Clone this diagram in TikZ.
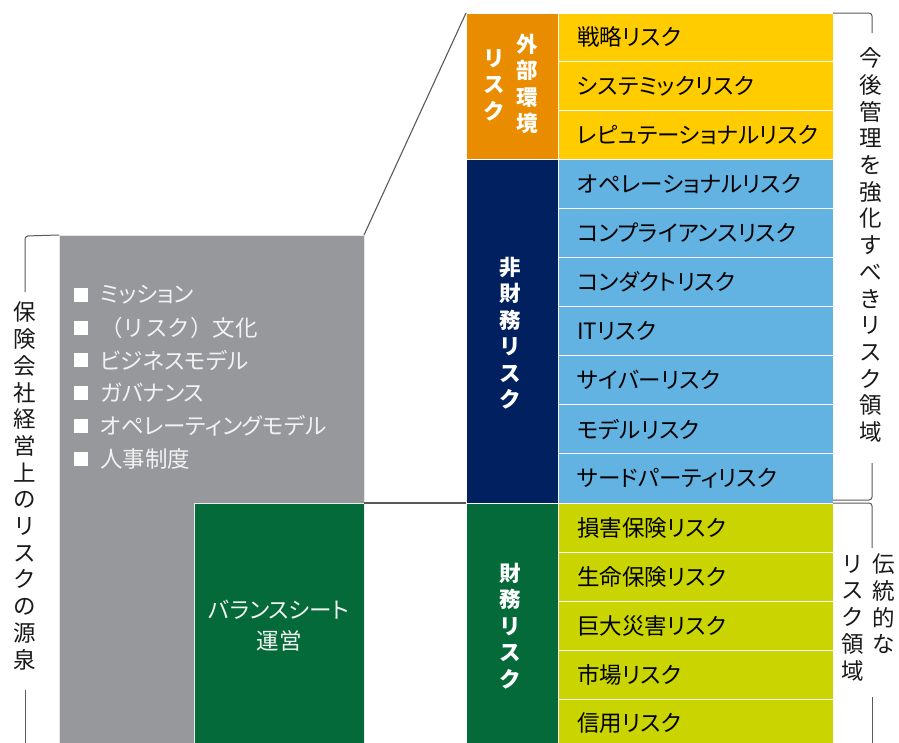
\documentclass[tikz,border=0pt]{standalone}
\usepackage{fontspec}
\newfontfamily\jp[RawFeature=+palt]{Noto Sans CJK JP}
\newfontfamily\jpv{Noto Sans CJK JP}
\definecolor{cOrange}{HTML}{EA8C00}
\definecolor{cYellow}{HTML}{FFCC00}
\definecolor{cNavy}{HTML}{00205F}
\definecolor{cBlue}{HTML}{62B2E2}
\definecolor{cGreen}{HTML}{056A39}
\definecolor{cLime}{HTML}{C9D400}
\definecolor{cGray}{HTML}{97989B}
\definecolor{cLine}{HTML}{5A5A5A}
\definecolor{cLight}{HTML}{F2F2F2}
\begin{document}
\begin{tikzpicture}[x=1pt,y=-1pt,
  cell/.style={rectangle, inner sep=0, outer sep=0, draw=white, line width=0.9pt, anchor=north west},
  rowtxt/.style={anchor=west, inner sep=0, font=\jp\fontsize{22.5}{24}\selectfont, text=black},
  headtxt/.style={align=center, inner sep=0, text=white, font=\jpv\bfseries\fontsize{21.5}{26.5}\selectfont},
  sidetxt/.style={align=center, inner sep=0, text=black!90, font=\jpv\fontsize{22.5}{26.7}\selectfont},
  bullettxt/.style={anchor=west, inner sep=0, text=cLight, font=\jp\fontsize{22.5}{26}\selectfont},
  bulletbox/.style={rectangle, fill=white, minimum size=14pt, inner sep=0},
  brk/.style={draw=cLine, line width=1pt, rounded corners=3pt},
  conn/.style={draw=cLine, line width=1.1pt}]
\useasboundingbox (0,0) rectangle (899,742);
\clip (0,0) rectangle (899,742);
\fill[white] (0,0) rectangle (899,742);

% source box (gray)
\node[cell, fill=cGray, draw=white!80!gray, line width=0.6pt, minimum width=305pt, minimum height=530pt] (src) at (59,235) {};
% balance sheet box
\node[cell, fill=cGreen, draw=white!85!gray, line width=0.8pt, minimum width=170pt, minimum height=260pt] (bs) at (194,503) {};
\node[align=center, inner sep=0, text=cLight, font=\jp\fontsize{22.5}{31}\selectfont] (bstxt) at (279,626) {バランスシート\\運営};

% bullets
\foreach \t [count=\i from 0] in {ミッション,{\jpv （リスク）文化},ビジネスモデル,ガバナンス,オペレーティングモデル,人事制度} {
  \node[bulletbox] (b\i) at (81,295+32.7*\i) {};
  \node[bullettxt] (bt\i) at (100,295+32.7*\i) {\t};
}

% category column
\node[cell, fill=cOrange, minimum width=92pt, minimum height=146pt] (ext) at (466,13) {};
\node[cell, fill=cNavy, minimum width=92pt, minimum height=344pt] (nfin) at (466,159) {};
\node[cell, fill=cGreen, minimum width=92pt, minimum height=260pt] (fin) at (466,503) {};

\node[headtxt] (extA) at (527,84) {外\\部\\環\\境};
\node[headtxt] (extB) at (494,85) {リ\\ス\\ク};
\node[headtxt] (nfinT) at (510,333) {非\\財\\務\\リ\\ス\\ク};
\node[headtxt] (finT) at (510,626) {財\\務\\リ\\ス\\ク};

% risk rows
\foreach \t [count=\i from 0] in {戦略リスク,システミックリスク,レピュテーショナルリスク} {
  \node[cell, fill=cYellow, minimum width=275pt, minimum height=48.67pt] (y\i) at (558,13+48.67*\i) {};
  \node[rowtxt] (yt\i) at ([xshift=19pt]y\i.west) {\t};
}
\foreach \t [count=\i from 0] in {オペレーショナルリスク,コンプライアンスリスク,コンダクトリスク,ITリスク,サイバーリスク,モデルリスク,サードパーティリスク} {
  \node[cell, fill=cBlue, minimum width=275pt, minimum height=49.14pt] (n\i) at (558,159+49.14*\i) {};
  \node[rowtxt] (nt\i) at ([xshift=19pt]n\i.west) {\t};
}
\foreach \t [count=\i from 0] in {損害保険リスク,生命保険リスク,巨大災害リスク,市場リスク,信用リスク} {
  \node[cell, fill=cLime, minimum width=275pt, minimum height=49pt] (f\i) at (558,503+49*\i) {};
  \node[rowtxt] (ft\i) at ([xshift=19pt]f\i.west) {\t};
}

% connectors
\draw[conn] (src.north east) -- (ext.north west);
\draw[conn] (bs.north east) -- (fin.north west);

% left bracket
\coordinate (lb1) at (25,236);
\coordinate (lb2) at (25,292);
\coordinate (lb3) at (25,690);
\coordinate (lb4) at (25,745);
\draw[brk] (src.north west) -- (lb1) -- (lb2);
\draw[brk] (lb3) -- (lb4);
\node[sidetxt] (lefttxt) at (25,486) {保\\険\\会\\社\\経\\営\\上\\の\\リ\\ス\\ク\\の\\源\\泉};

% right upper bracket
\coordinate (ra1) at (872,13);
\coordinate (ra2) at (872,33);
\coordinate (ra3) at (872,463);
\coordinate (ra4) at (872,500);
\coordinate (ra5) at (833,500);
\draw[brk] (y0.north east) -- (ra1) -- (ra2);
\draw[brk] (ra3) -- (ra4) -- (ra5);
\node[sidetxt] (righttxt) at (871,245) {今\\後\\管\\理\\を\\強\\化\\す\\べ\\き\\リ\\ス\\ク\\領\\域};

% right lower bracket
\coordinate (rb1) at (872,503);
\coordinate (rb2) at (872,548);
\coordinate (rb3) at (872,697);
\coordinate (rb4) at (872,745);
\draw[brk] (f0.north east) -- (rb1) -- (rb2);
\draw[brk] (rb3) -- (rb4);
\node[sidetxt] (tradA) at (884,604) {伝\\統\\的\\な};
\node[sidetxt] (tradB) at (853,618) {リ\\ス\\ク\\領\\域};
\end{tikzpicture}
\end{document}
